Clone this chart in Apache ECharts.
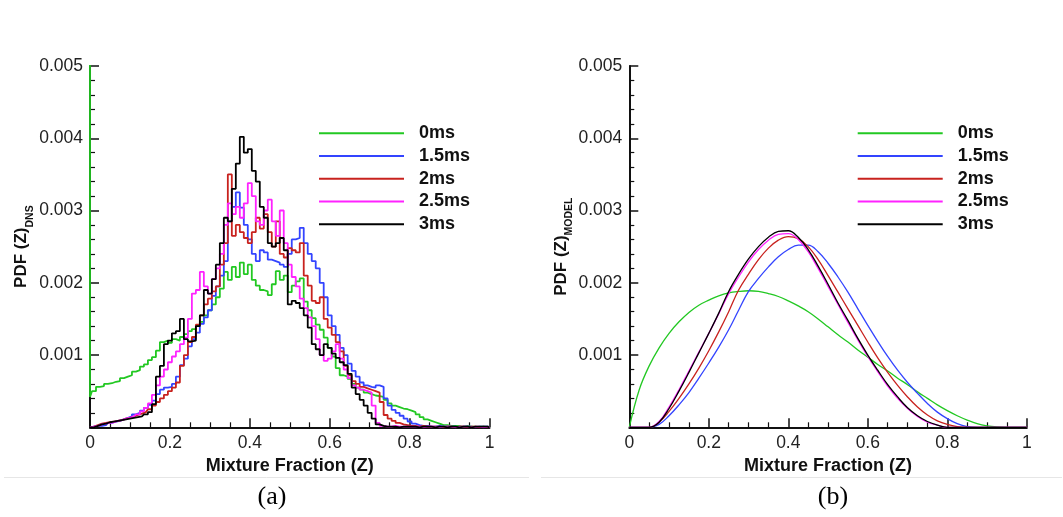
<!DOCTYPE html>
<html>
<head>
<meta charset="utf-8">
<title>PDF of mixture fraction: DNS vs model</title>
<script src="https://cdn.jsdelivr.net/npm/echarts@6/dist/echarts.min.js"></script>
<style>
  html, body { margin: 0; padding: 0; background: #fff; }
  #chart { width: 1063px; height: 517px; }
</style>
</head>
<body>
<div id="chart"></div>
<script>
// Series names (time after injection)
const seriesNames = ['0ms', '1.5ms', '2ms', '2.5ms', '3ms'];
const seriesColors = ['#22c822', '#3344ff', '#c8221e', '#ff22ff', '#000000'];

// Axis ticks
const zTicks = [0, 0.2, 0.4, 0.6, 0.8, 1];
const pdfTicks = [0, 0.001, 0.002, 0.003, 0.004, 0.005];

// PDF values below are given in units of 1e-3
const PDF_UNIT = 1e-3;

// (a) DNS histograms, sampled at Z = 0.00, 0.01, ..., 1.00
const dnsStep = 0.01;
// 0ms has a large peak exactly at Z = 0 (beyond the plotted range)
const dns0AtZero = 6.5;
const dns0 = [
  0.42,0.50,0.56,0.57,0.60,0.61,0.63,0.64,0.68,0.70,
  0.72,0.77,0.79,0.84,0.87,0.93,0.97,1.06,1.18,1.20,
  1.17,1.22,1.20,1.25,1.29,1.33,1.36,1.41,1.46,1.55,
  1.62,1.70,1.80,1.92,2.15,2.04,2.22,2.08,2.28,2.12,
  2.25,2.04,1.96,1.90,1.88,1.83,1.98,2.16,2.04,2.10,
  1.87,1.96,2.02,2.06,1.74,1.62,1.51,1.42,1.35,1.24,
  1.10,0.98,0.82,0.72,0.70,0.67,0.60,0.55,0.52,0.48,
  0.46,0.44,0.43,0.42,0.38,0.33,0.30,0.28,0.26,0.25,
  0.23,0.21,0.18,0.14,0.11,0.09,0.07,0.05,0.03,0.03,
  0.02,0.02,0.02,0.01,0.02,0.01,0.01,0.01,0.01,0.01,
  0.01
];
const dns15 = [
  0.00,0.01,0.02,0.02,0.03,0.06,0.08,0.09,0.11,0.13,
  0.15,0.18,0.20,0.23,0.27,0.31,0.37,0.46,0.52,0.55,
  0.56,0.60,0.70,0.86,0.95,1.12,1.22,1.31,1.43,1.52,
  1.62,1.82,1.95,2.10,2.30,2.85,3.05,3.25,3.04,2.80,
  2.60,2.40,2.30,2.45,2.42,2.32,2.30,2.28,2.25,2.22,
  2.40,2.60,2.62,2.76,2.55,2.40,2.30,2.20,2.00,1.80,
  1.55,1.40,1.28,1.10,1.00,0.88,0.78,0.70,0.62,0.58,
  0.56,0.55,0.58,0.56,0.40,0.30,0.24,0.20,0.16,0.12,
  0.08,0.05,0.03,0.02,0.02,0.01,0.01,0.02,0.01,0.01,
  0.01,0.01,0.00,0.01,0.01,0.01,0.00,0.01,0.01,0.01,
  0.00
];
const dns2 = [
  0.00,0.01,0.03,0.05,0.06,0.07,0.08,0.09,0.10,0.12,
  0.13,0.15,0.17,0.19,0.21,0.25,0.30,0.35,0.40,0.45,
  0.50,0.55,0.62,0.85,1.00,1.18,1.25,1.42,1.55,1.70,
  1.78,1.88,1.95,2.25,2.55,3.50,2.65,2.80,2.70,2.62,
  2.55,2.70,2.90,2.75,2.95,2.70,2.50,2.85,2.40,2.35,
  2.48,2.45,2.42,2.55,2.10,1.96,1.75,1.72,1.80,1.50,
  1.38,1.28,1.18,1.05,0.85,0.72,0.64,0.60,0.56,0.54,
  0.52,0.50,0.48,0.35,0.17,0.12,0.09,0.06,0.04,0.03,
  0.02,0.02,0.01,0.02,0.01,0.01,0.01,0.01,0.00,0.01,
  0.01,0.00,0.01,0.01,0.00,0.01,0.01,0.00,0.01,0.00,
  0.00
];
const dns25 = [
  0.00,0.01,0.02,0.04,0.05,0.06,0.07,0.09,0.10,0.12,
  0.13,0.15,0.18,0.22,0.27,0.33,0.45,0.58,0.70,0.80,
  0.90,0.98,1.05,1.15,1.24,1.50,1.85,1.90,2.15,1.95,
  1.85,2.05,2.20,2.40,2.80,3.10,2.95,3.05,2.90,3.10,
  3.38,3.20,2.85,2.80,3.00,3.15,2.85,2.65,3.00,2.55,
  2.25,2.08,1.95,1.78,1.65,1.52,1.40,1.22,1.00,0.92,
  0.95,1.05,1.15,0.95,0.80,0.68,0.58,0.55,0.52,0.50,
  0.48,0.30,0.06,0.02,0.01,0.01,0.02,0.01,0.01,0.01,
  0.01,0.01,0.01,0.00,0.01,0.01,0.01,0.00,0.01,0.01,
  0.01,0.00,0.01,0.01,0.01,0.00,0.01,0.01,0.00,0.01,
  0.00
];
const dns3 = [
  0.00,0.00,0.02,0.04,0.05,0.07,0.08,0.09,0.10,0.11,
  0.12,0.13,0.14,0.15,0.18,0.21,0.32,0.70,0.85,1.15,
  1.20,1.30,1.33,1.50,1.22,1.19,1.20,1.40,1.55,1.90,
  1.85,2.05,2.25,2.55,2.90,2.85,3.30,3.65,4.02,3.80,
  3.85,3.55,3.40,3.05,2.90,2.55,2.50,2.55,2.62,2.45,
  1.70,1.75,1.72,1.65,1.55,1.38,1.15,1.08,1.00,1.15,
  1.10,1.02,0.96,0.90,0.86,0.74,0.55,0.46,0.38,0.30,
  0.20,0.12,0.04,0.02,0.01,0.01,0.01,0.00,0.01,0.01,
  0.01,0.01,0.00,0.01,0.01,0.01,0.00,0.01,0.01,0.00,
  0.01,0.01,0.00,0.01,0.01,0.00,0.01,0.01,0.01,0.01,
  0.00
];

// (b) presumed-PDF model, sampled at Z = 0.000, 0.025, ..., 1.000
const modelStep = 0.025;
const model0 = [
  0,0.52,0.85,1.10,1.30,1.46,1.59,1.69,1.76,1.82,
  1.86,1.88,1.89,1.88,1.85,1.81,1.75,1.68,1.60,1.50,
  1.39,1.28,1.18,1.07,0.97,0.87,0.78,0.68,0.59,0.49,
  0.40,0.31,0.23,0.16,0.10,0.05,0.02,0.005,0,0,
  0
];
const model15 = [
  0,0,0,0.04,0.16,0.31,0.48,0.68,0.89,1.11,
  1.35,1.62,1.88,2.06,2.22,2.36,2.46,2.52,2.52,2.43,
  2.27,2.08,1.87,1.64,1.41,1.19,0.98,0.79,0.62,0.47,
  0.33,0.21,0.12,0.05,0.01,0,0,0,0,0,
  0
];
const model2 = [
  0,0,0,0.07,0.22,0.40,0.60,0.82,1.06,1.32,
  1.60,1.90,2.12,2.32,2.48,2.59,2.64,2.61,2.50,2.32,
  2.10,1.87,1.64,1.41,1.18,0.96,0.76,0.58,0.42,0.28,
  0.17,0.09,0.04,0.01,0,0,0,0,0,0,
  0
];
const model25 = [
  0,0,0,0.08,0.28,0.52,0.78,1.04,1.30,1.57,
  1.85,2.08,2.29,2.46,2.59,2.67,2.68,2.60,2.43,2.20,
  1.95,1.70,1.45,1.21,0.98,0.77,0.57,0.40,0.26,0.15,
  0.07,0.03,0,0,0,0,0,0,0,0,
  0
];
const model3 = [
  0,0,0,0.07,0.26,0.50,0.76,1.03,1.30,1.58,
  1.88,2.12,2.33,2.50,2.63,2.71,2.72,2.63,2.46,2.23,
  1.98,1.72,1.48,1.23,1.00,0.79,0.59,0.42,0.27,0.16,
  0.08,0.03,0,0,0,0,0,0,0,0,
  0
];

const FONT = '"Liberation Sans", Arial, Helvetica, sans-serif';
const INK = '#111';

function toPairs(values, step) {
  return values.map((v, i) => [+(i * step).toFixed(4), v * PDF_UNIT]);
}

function xAxisFor(gridIndex) {
  return {
    type: 'value', gridIndex,
    min: zTicks[0], max: zTicks[zTicks.length - 1], interval: zTicks[1] - zTicks[0],
    name: 'Mixture Fraction (Z)', nameLocation: 'middle', nameGap: 26,
    nameTextStyle: { fontFamily: FONT, fontSize: 18, fontWeight: 'bold', color: INK },
    axisLine: { show: true, onZero: false, lineStyle: { color: INK, width: 2 } },
    axisTick: { show: true, inside: true, length: 9, lineStyle: { color: INK, width: 1.5 } },
    minorTick: { show: true, splitNumber: 4, length: 5, lineStyle: { color: INK, width: 1.2 } },
    axisLabel: { margin: 7, fontFamily: FONT, fontSize: 17.5, color: '#222',
                 formatter: v => String(+v.toFixed(1)) },
    splitLine: { show: false }, minorSplitLine: { show: false }
  };
}

function yAxisFor(gridIndex, sub) {
  return {
    type: 'value', gridIndex,
    min: pdfTicks[0], max: pdfTicks[pdfTicks.length - 1], interval: pdfTicks[1] - pdfTicks[0],
    name: '{a|PDF (Z)}{b|' + sub + '}',
    nameLocation: 'middle', nameRotate: 90, nameGap: 42,
    nameTextStyle: {
      rich: {
        a: { fontFamily: FONT, fontSize: 17, fontWeight: 'bold', color: INK, lineHeight: 18, verticalAlign: 'top' },
        b: { fontFamily: FONT, fontSize: 10.5, fontWeight: 'bold', color: INK, lineHeight: 22, verticalAlign: 'bottom' }
      }
    },
    axisLine: { show: true, onZero: false, lineStyle: { color: INK, width: 2 } },
    axisTick: { show: true, inside: true, length: 9, lineStyle: { color: INK, width: 1.5 } },
    minorTick: { show: true, splitNumber: 5, length: 5, lineStyle: { color: INK, width: 1.2 } },
    axisLabel: { margin: 7, fontFamily: FONT, fontSize: 17.5, color: '#222',
                 formatter: v => (v === 0 ? '' : v.toFixed(3)) },
    splitLine: { show: false }, minorSplitLine: { show: false }
  };
}

function legendAt(left) {
  return {
    orient: 'vertical', left, top: 122, padding: 0,
    itemWidth: 85, itemHeight: 2, itemGap: 0, icon: 'rect',
    selectedMode: false, data: seriesNames,
    textStyle: { fontFamily: FONT, fontSize: 18, fontWeight: 'bold', color: INK,
                 lineHeight: 22.7, padding: [0, 0, 0, 10] }
  };
}

function lineSeries(name, color, data, gridIndex, opts) {
  return Object.assign({
    type: 'line', name, data,
    xAxisIndex: gridIndex, yAxisIndex: gridIndex,
    symbol: 'none', showSymbol: false, clip: true,
    lineStyle: { color, width: 1.8 }, itemStyle: { color },
    emphasis: { disabled: true }
  }, opts || {});
}

const dnsSets = [dns0, dns15, dns2, dns25, dns3];
const modelSets = [model0, model15, model2, model25, model3];

const series = [];
dnsSets.forEach((vals, k) => {
  let pts = toPairs(vals, dnsStep);
  if (k === 0) pts = [[0, dns0AtZero * PDF_UNIT]].concat(pts);
  // histogram bins drawn as a staircase
  series.push(lineSeries(seriesNames[k], seriesColors[k], pts, 0, { step: 'middle' }));
});
modelSets.forEach((vals, k) => {
  series.push(lineSeries(seriesNames[k], seriesColors[k], toPairs(vals, modelStep), 1, {
    smooth: 0.4, lineStyle: { color: seriesColors[k], width: 1.3 }
  }));
});

const chart = echarts.init(document.getElementById('chart'), null, { renderer: 'canvas' });
chart.setOption({
  animation: false,
  backgroundColor: '#ffffff',
  grid: [
    { left: 90, top: 66, width: 399.5, height: 361.3 },
    { left: 629.3, top: 66, width: 397.5, height: 361.3 }
  ],
  xAxis: [xAxisFor(0), xAxisFor(1)],
  yAxis: [yAxisFor(0, 'DNS'), yAxisFor(1, 'MODEL')],
  legend: [legendAt(319), legendAt(857.7)],
  series,
  graphic: [
    { type: 'line', silent: true, shape: { x1: 4, y1: 477.5, x2: 529, y2: 477.5 },
      style: { stroke: '#e6e6e6', lineWidth: 1 } },
    { type: 'line', silent: true, shape: { x1: 541, y1: 477.5, x2: 1062, y2: 477.5 },
      style: { stroke: '#e6e6e6', lineWidth: 1 } },
    { type: 'text', silent: true, x: 272, y: 497,
      style: { text: '(a)', fontFamily: '"Liberation Serif", "Times New Roman", serif', fontSize: 26,
               fill: '#000', textAlign: 'center', textVerticalAlign: 'middle' } },
    { type: 'text', silent: true, x: 833, y: 497,
      style: { text: '(b)', fontFamily: '"Liberation Serif", "Times New Roman", serif', fontSize: 26,
               fill: '#000', textAlign: 'center', textVerticalAlign: 'middle' } }
  ]
});
</script>
</body>
</html>
